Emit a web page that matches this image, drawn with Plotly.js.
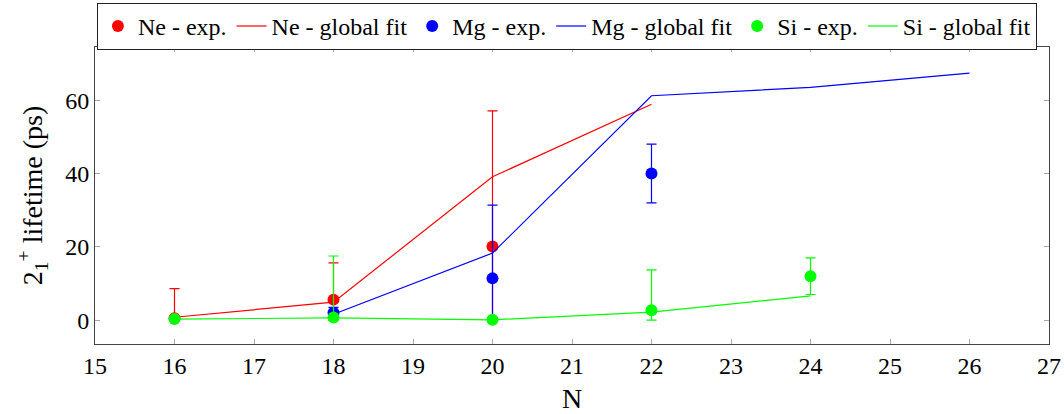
<!DOCTYPE html>
<html>
<head>
<meta charset="utf-8">
<script src="https://cdn.plot.ly/plotly-3.0.1.min.js"></script>
<style>html,body{margin:0;padding:0;background:#fff;}#chart{width:1064px;height:414px;}</style>
</head>
<body>
<div id="chart"></div>
<script>
// Experimental data
const neExpN = [16, 18, 20];
const neExpTau = [0.5, 5.6, 20.1];
const neExpErrPlus = [8.1, 10.0, 37.0];
const neExpErrMinus = [0.5, 5.6, 20.1];

const mgExpN = [18, 20, 22];
const mgExpTau = [2.0, 11.4, 40.0];
const mgExpErrPlus = [1.5, 20.0, 8.0];
const mgExpErrMinus = [1.5, 11.4, 8.0];

const siExpN = [16, 18, 20, 22, 24];
const siExpTau = [0.3, 0.7, 0.1, 2.7, 12.0];
const siExpErrPlus = [0, 16.8, 0, 11.0, 5.0];
const siExpErrMinus = [0, 0.7, 0, 2.7, 5.0];

// Global fit curves
const neFitN = [16, 18, 20, 22];
const neFitTau = [0.8, 4.9, 39.1, 58.9];

const mgFitN = [18, 20, 22, 24, 26];
const mgFitTau = [1.6, 18.3, 61.2, 63.5, 67.4];

const siFitN = [16, 18, 20, 22, 24];
const siFitTau = [0.3, 0.6, 0.1, 2.2, 6.6];

const RED = '#ff0000', BLUE = '#0000ff', GREEN = '#00ff00';
const FONT = 'Liberation Serif, DejaVu Serif, serif';

function expTrace(name, x, y, ep, em, color) {
  return {
    type: 'scatter', mode: 'markers', name: name, x: x, y: y,
    marker: {color: color, size: 12},
    error_y: {type: 'data', symmetric: false, array: ep, arrayminus: em,
              color: color, thickness: 1.2, width: 5}
  };
}
function fitTrace(name, x, y, color) {
  return {type: 'scatter', mode: 'lines', name: name, x: x, y: y,
          line: {color: color, width: 1.2}};
}

const data = [
  expTrace('Ne - exp.', neExpN, neExpTau, neExpErrPlus, neExpErrMinus, RED),
  fitTrace('Ne - global fit', neFitN, neFitTau, RED),
  expTrace('Mg - exp.', mgExpN, mgExpTau, mgExpErrPlus, mgExpErrMinus, BLUE),
  fitTrace('Mg - global fit', mgFitN, mgFitTau, BLUE),
  expTrace('Si - exp.', siExpN, siExpTau, siExpErrPlus, siExpErrMinus, GREEN),
  fitTrace('Si - global fit', siFitN, siFitTau, GREEN)
];

const layout = {
  width: 1064, height: 414,
  margin: {l: 95, r: 15, t: 47, b: 70, autoexpand: false},
  paper_bgcolor: '#fff', plot_bgcolor: '#fff',
  font: {family: FONT, size: 24, color: '#000'},
  showlegend: true,
  legend: {orientation: 'h', xref: 'paper', x: 0.002, xanchor: 'left',
           yref: 'container', y: 0.993, yanchor: 'top',
           bordercolor: '#222', borderwidth: 1, bgcolor: '#fff',
           font: {family: FONT, size: 24}, itemwidth: 30, tracegroupgap: 0},
  xaxis: {
    range: [15, 27], dtick: 1, tick0: 15,
    showgrid: false, zeroline: false,
    showline: true, linecolor: '#444', linewidth: 1, mirror: 'ticks',
    ticks: 'inside', ticklen: 5, tickcolor: '#aaa',
    tickfont: {family: FONT, size: 24},
    title: {text: 'N', font: {family: FONT, size: 28}, standoff: 11}
  },
  yaxis: {
    range: [-6.5, 74.5], tickvals: [0, 20, 40, 60],
    showgrid: false, zeroline: false,
    showline: true, linecolor: '#444', linewidth: 1, mirror: 'ticks',
    ticks: 'inside', ticklen: 5, tickcolor: '#aaa',
    tickfont: {family: FONT, size: 24},
    title: {text: '2<sub>1</sub><sup>+</sup> lifetime (ps)', font: {family: FONT, size: 28}, standoff: 14}
  }
};

Plotly.newPlot('chart', data, layout, {displayModeBar: false, staticPlot: true});
</script>
</body>
</html>
